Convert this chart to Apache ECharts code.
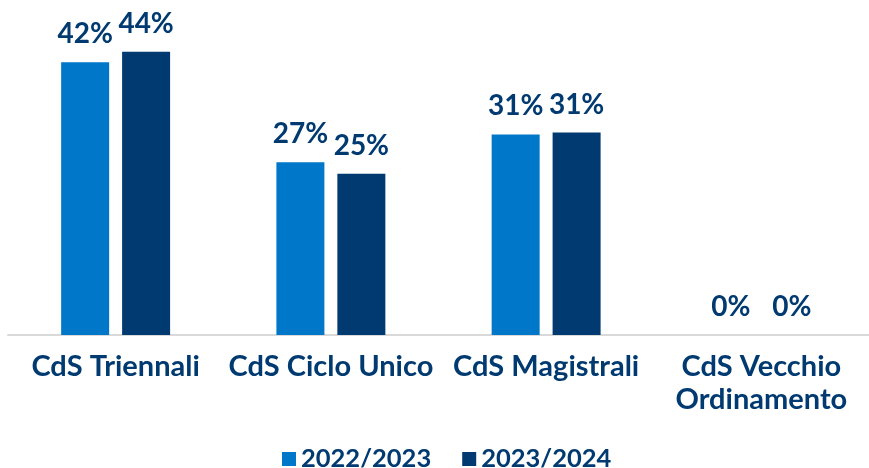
<!DOCTYPE html>
<html>
<head>
    <meta charset="utf-8">
    <title></title>
    <style>
        body { margin: 0; background: #fff; }
    </style>
</head>
<body>
    <div id="main" style="width: 869px;height:468px;"></div>
    <script src="https://cdn.jsdelivr.net/npm/echarts@6/dist/echarts.min.js" charset="utf-8"></script>
    <script>
    var categories = ['CdS Triennali', 'CdS Ciclo Unico', 'CdS Magistrali', 'CdS Vecchio\nOrdinamento'];
    var seriesNames = ['2022/2023', '2023/2024'];
    var values2022 = [42.3, 26.8, 31.1, 0];
    var values2023 = [43.9, 25.0, 31.4, 0];

    var navy = '#003A70';
    var blue = '#0077C8';
    var font = 'Lato';

    var labelStyle = {
        show: true,
        position: 'top',
        distance: 14,
        color: navy,
        fontFamily: font,
        fontWeight: 'bold',
        fontSize: 28,
        formatter: function (p) { return Math.round(p.value) + '%'; }
    };

    var myChart = echarts.init(document.getElementById('main'));
    var option = {
        animation: false,
        grid: { left: 8, right: 0, top: 12.5, bottom: 133 },
        legend: {
            top: 441,
            left: 277,
            itemWidth: 14,
            itemHeight: 14,
            itemGap: 31,
            icon: 'rect',
            textStyle: { color: navy, fontFamily: font, fontWeight: 'bold', fontSize: 25.5 },
            data: seriesNames
        },
        xAxis: {
            type: 'category',
            data: categories,
            axisLine: { lineStyle: { color: '#d9d9d9', width: 2 } },
            axisTick: { show: false },
            axisLabel: {
                color: navy,
                fontFamily: font,
                fontWeight: 'bold',
                fontSize: 29,
                margin: 15,
                lineHeight: 33,
                interval: 0
            }
        },
        yAxis: {
            type: 'value',
            min: 0,
            max: 50,
            show: false,
            splitLine: { show: false }
        },
        series: [{
            name: seriesNames[0],
            type: 'bar',
            data: values2022,
            barWidth: 48,
            barGap: '27%',
            itemStyle: { color: blue },
            label: labelStyle
        }, {
            name: seriesNames[1],
            type: 'bar',
            data: values2023,
            barWidth: 48,
            itemStyle: { color: navy },
            label: labelStyle
        }]
    };
    myChart.setOption(option);
    </script>
</body>
</html>
